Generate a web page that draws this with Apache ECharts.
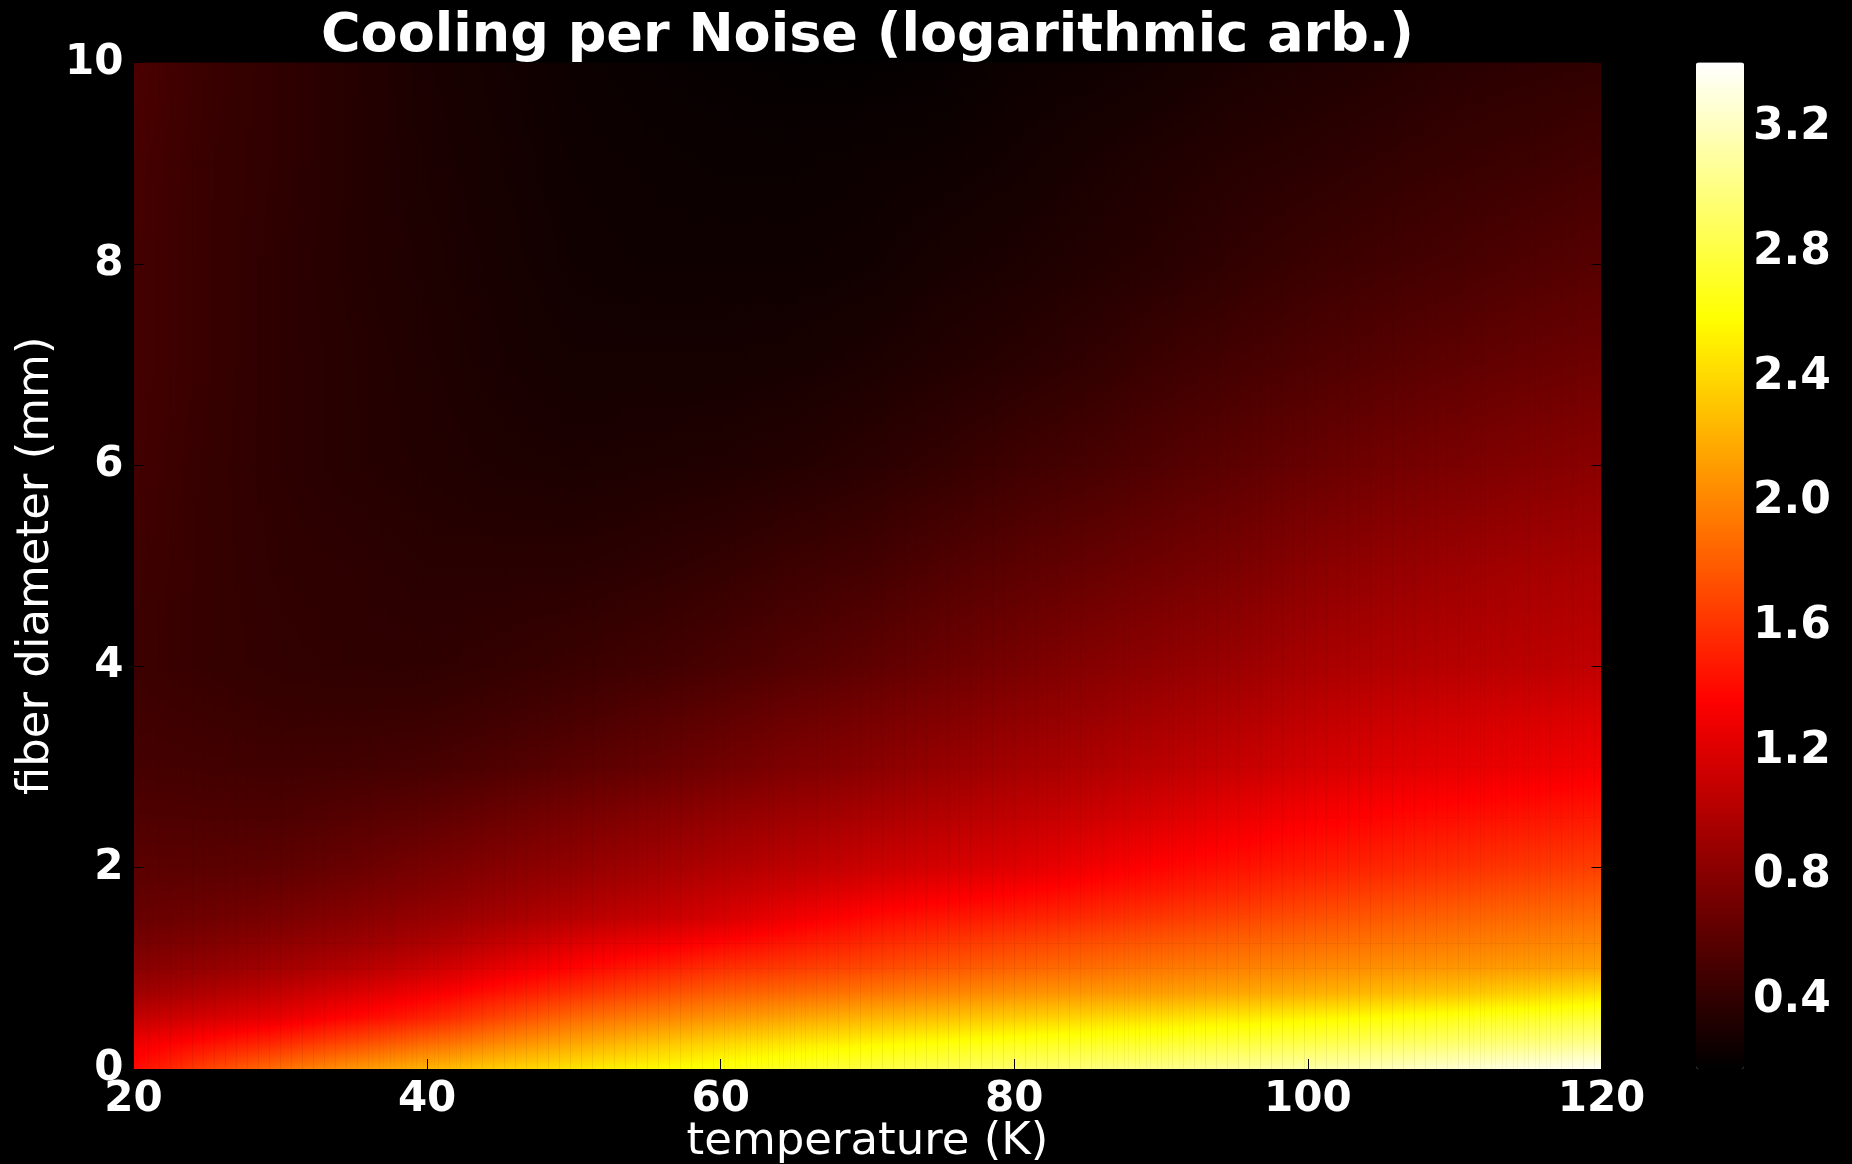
<!DOCTYPE html>
<html>
<head>
<meta charset="utf-8">
<title>Cooling per Noise</title>
<script src="https://cdn.jsdelivr.net/npm/echarts@6/dist/echarts.min.js"></script>
<style>
  html, body { margin: 0; padding: 0; background: #000; }
  #chart { width: 1852px; height: 1164px; }
</style>
</head>
<body>
<div id="chart"></div>
<script>
// Sample grid: temperature (K) along x, fiber diameter (mm) along y
const temperatures = [20, 25, 30, 35, 40, 45, 50, 55, 60, 65, 70, 75, 80, 85, 90, 95, 100, 105, 110, 115, 120];
const diameters = [0, 0.25, 0.5, 0.75, 1, 1.25, 1.5, 1.75, 2, 2.5, 3, 3.5, 4, 5, 6, 7, 8, 9, 10];

// Cooling per noise (log, arbitrary units); one row per diameter, one entry per temperature
const coolingPerNoise = [
  [1.40, 1.68, 1.90, 2.08, 2.23, 2.35, 2.46, 2.56, 2.64, 2.72, 2.80, 2.87, 2.93, 2.98, 3.03, 3.08, 3.13, 3.19, 3.26, 3.32, 3.38],
  [1.29, 1.43, 1.57, 1.73, 1.88, 2.03, 2.17, 2.29, 2.40, 2.48, 2.55, 2.62, 2.68, 2.72, 2.75, 2.80, 2.84, 2.90, 2.95, 3.00, 3.06],
  [1.09, 1.18, 1.27, 1.40, 1.53, 1.71, 1.88, 1.99, 2.09, 2.17, 2.24, 2.30, 2.36, 2.41, 2.45, 2.50, 2.55, 2.61, 2.67, 2.72, 2.78],
  [0.92, 1.00, 1.09, 1.20, 1.32, 1.46, 1.60, 1.72, 1.82, 1.88, 1.94, 2.00, 2.06, 2.10, 2.13, 2.17, 2.21, 2.26, 2.31, 2.38, 2.45],
  [0.81, 0.87, 0.94, 1.02, 1.12, 1.25, 1.38, 1.49, 1.59, 1.65, 1.71, 1.78, 1.84, 1.89, 1.94, 1.98, 2.02, 2.06, 2.09, 2.12, 2.15],
  [0.73, 0.78, 0.84, 0.90, 0.98, 1.08, 1.20, 1.29, 1.38, 1.47, 1.55, 1.62, 1.68, 1.74, 1.79, 1.84, 1.88, 1.92, 1.96, 1.99, 2.02],
  [0.66, 0.70, 0.75, 0.81, 0.88, 0.95, 1.03, 1.10, 1.18, 1.30, 1.40, 1.46, 1.51, 1.57, 1.63, 1.69, 1.74, 1.79, 1.84, 1.87, 1.90],
  [0.63, 0.65, 0.68, 0.74, 0.80, 0.87, 0.94, 1.01, 1.09, 1.17, 1.25, 1.31, 1.36, 1.43, 1.49, 1.55, 1.61, 1.66, 1.71, 1.75, 1.78],
  [0.60, 0.60, 0.62, 0.67, 0.74, 0.80, 0.86, 0.93, 1.00, 1.06, 1.12, 1.17, 1.22, 1.30, 1.38, 1.44, 1.49, 1.54, 1.59, 1.63, 1.66],
  [0.55, 0.54, 0.54, 0.58, 0.62, 0.68, 0.74, 0.80, 0.86, 0.92, 0.97, 1.02, 1.07, 1.13, 1.20, 1.27, 1.33, 1.38, 1.42, 1.45, 1.48],
  [0.50, 0.49, 0.48, 0.49, 0.51, 0.55, 0.60, 0.65, 0.71, 0.77, 0.82, 0.88, 0.94, 0.99, 1.05, 1.10, 1.16, 1.21, 1.25, 1.28, 1.31],
  [0.48, 0.46, 0.44, 0.44, 0.45, 0.48, 0.52, 0.57, 0.62, 0.68, 0.73, 0.78, 0.84, 0.89, 0.95, 1.00, 1.06, 1.11, 1.15, 1.18, 1.20],
  [0.46, 0.43, 0.41, 0.40, 0.40, 0.42, 0.45, 0.48, 0.52, 0.57, 0.62, 0.68, 0.74, 0.80, 0.85, 0.90, 0.96, 1.00, 1.03, 1.05, 1.07],
  [0.47, 0.43, 0.40, 0.39, 0.37, 0.37, 0.37, 0.39, 0.42, 0.46, 0.49, 0.55, 0.60, 0.65, 0.70, 0.75, 0.81, 0.86, 0.90, 0.94, 0.96],
  [0.49, 0.43, 0.39, 0.36, 0.34, 0.32, 0.31, 0.32, 0.33, 0.35, 0.38, 0.42, 0.47, 0.51, 0.56, 0.61, 0.66, 0.71, 0.75, 0.79, 0.82],
  [0.50, 0.44, 0.39, 0.36, 0.33, 0.30, 0.28, 0.28, 0.28, 0.29, 0.31, 0.34, 0.37, 0.41, 0.46, 0.50, 0.54, 0.58, 0.62, 0.66, 0.69],
  [0.50, 0.44, 0.39, 0.35, 0.32, 0.29, 0.26, 0.25, 0.25, 0.25, 0.26, 0.29, 0.31, 0.34, 0.37, 0.41, 0.45, 0.48, 0.51, 0.55, 0.58],
  [0.51, 0.44, 0.40, 0.35, 0.31, 0.28, 0.25, 0.24, 0.23, 0.23, 0.24, 0.25, 0.27, 0.30, 0.33, 0.36, 0.38, 0.41, 0.44, 0.46, 0.49],
  [0.53, 0.45, 0.40, 0.35, 0.30, 0.27, 0.24, 0.22, 0.21, 0.20, 0.20, 0.21, 0.24, 0.25, 0.27, 0.30, 0.32, 0.34, 0.37, 0.39, 0.40]
];

// Colour scale limits and colourbar tick values
const colorRange = [0.18, 3.41];
const colorbarTicks = [0.4, 0.8, 1.2, 1.6, 2.0, 2.4, 2.8, 3.2];

// "hot" colormap: black -> red -> yellow -> white
function hotColor(t) {
  const c = v => Math.max(0, Math.min(1, v));
  const r = c(t / 0.365079);
  const g = c((t - 0.365079) / (0.746032 - 0.365079));
  const b = c((t - 0.746032) / (1 - 0.746032));
  const h = v => Math.round(v * 255).toString(16).padStart(2, '0');
  return '#' + h(r) + h(g) + h(b);
}
function colorFor(v) {
  return hotColor((v - colorRange[0]) / (colorRange[1] - colorRange[0]));
}
const hotStops = [];
for (let k = 0; k <= 255; k++) hotStops.push(hotColor(k / 255));

const nT = temperatures.length;
const nD = diameters.length;
const seriesData = [];
diameters.forEach((d, j) => {
  temperatures.forEach((t, i) => {
    seriesData.push([t, d, coolingPerNoise[j][i]]);
  });
});

// Gouraud-style shading: each sample owns the quad spanning to its upper-right
// neighbour; the quad is painted as narrow columns with vertical colour ramps.
const STRIPS = 20;
const RAMP_STOPS = 9;
function rowValue(j, i, f) {
  return coolingPerNoise[j][i] * (1 - f) + coolingPerNoise[j][i + 1] * f;
}
function renderCell(params, api) {
  const i = params.dataIndex % nT;
  const j = Math.floor(params.dataIndex / nT);
  if (i === nT - 1 || j === nD - 1) return;
  const pBL = api.coord([temperatures[i], diameters[j]]);
  const pTR = api.coord([temperatures[i + 1], diameters[j + 1]]);
  const x0 = pBL[0], yb = pBL[1], x1 = pTR[0], yt = pTR[1];
  const w = (x1 - x0) / STRIPS;
  const xMax = params.coordSys.x + params.coordSys.width;
  const yMax = params.coordSys.y + params.coordSys.height;
  const children = [];
  for (let s = 0; s < STRIPS; s++) {
    const f = (s + 0.5) / STRIPS;
    const vBottom = rowValue(j, i, f);
    const vTop = rowValue(j + 1, i, f);
    const stops = [];
    for (let k = 0; k < RAMP_STOPS; k++) {
      const o = k / (RAMP_STOPS - 1);
      stops.push({ offset: o, color: colorFor(vTop * (1 - o) + vBottom * o) });
    }
    const left = x0 + s * w;
    const right = Math.min(left + w + 0.5, xMax);
    const bottom = Math.min(yb + 0.5, yMax);
    children.push({
      type: 'rect',
      shape: { x: left, y: yt, width: right - left, height: bottom - yt },
      style: { fill: new echarts.graphic.LinearGradient(0, 0, 0, 1, stops) },
      silent: true
    });
  }
  return { type: 'group', children: children };
}

const FONT = 'DejaVu Sans';
const plot = { left: 133.5, top: 62.6, width: 1468, height: 1006.4 };
const bar = { left: 1696, top: 62.6, width: 48, height: 1006.4 };

const tickStyle = { show: true, inside: true, length: 10, lineStyle: { color: '#000', width: 1 } };
const tickLabel = { color: '#fff', fontFamily: FONT, fontWeight: 'bold', fontSize: 42 };

const chart = echarts.init(document.getElementById('chart'), null, { renderer: 'canvas' });

chart.setOption({
  backgroundColor: '#000',
  animation: false,
  title: {
    text: 'Cooling per Noise (logarithmic arb.)',
    left: plot.left + plot.width / 2,
    top: 10,
    padding: 0,
    textAlign: 'center',
    textStyle: { color: '#fff', fontFamily: FONT, fontWeight: 'bold', fontSize: 54 }
  },
  grid: [
    { left: plot.left, top: plot.top, width: plot.width, height: plot.height, containLabel: false, outerBoundsMode: 'none' },
    { left: bar.left, top: bar.top, width: bar.width, height: bar.height, containLabel: false, outerBoundsMode: 'none' }
  ],
  xAxis: [
    {
      type: 'value', gridIndex: 0, min: 20, max: 120, interval: 20, position: 'bottom', z: 10,
      name: 'temperature (K)', nameLocation: 'middle', nameGap: 51, nameMoveOverlap: false,
      nameTextStyle: { color: '#fff', fontFamily: FONT, fontSize: 45 },
      axisLine: { show: true, lineStyle: { color: '#000', width: 1 } },
      axisTick: tickStyle,
      axisLabel: Object.assign({ margin: 10 }, tickLabel),
      splitLine: { show: false }
    },
    {
      type: 'value', gridIndex: 0, min: 20, max: 120, interval: 20, position: 'top', z: 10,
      axisLine: { show: true, lineStyle: { color: '#000', width: 1 } },
      axisTick: tickStyle, axisLabel: { show: false }, splitLine: { show: false }
    },
    {
      type: 'value', gridIndex: 1, min: 0, max: 1, show: false
    }
  ],
  yAxis: [
    {
      type: 'value', gridIndex: 0, min: 0, max: 10, interval: 2, position: 'left', z: 10,
      name: 'fiber diameter (mm)', nameLocation: 'middle', nameGap: 75, nameRotate: 90, nameMoveOverlap: false,
      nameTextStyle: { color: '#fff', fontFamily: FONT, fontSize: 45 },
      axisLine: { show: true, lineStyle: { color: '#000', width: 1 } },
      axisTick: tickStyle,
      axisLabel: Object.assign({ margin: 10 }, tickLabel),
      splitLine: { show: false }
    },
    {
      type: 'value', gridIndex: 0, min: 0, max: 10, interval: 2, position: 'right', z: 10,
      axisLine: { show: true, lineStyle: { color: '#000', width: 1 } },
      axisTick: tickStyle, axisLabel: { show: false }, splitLine: { show: false }
    },
    {
      type: 'value', gridIndex: 1, min: colorRange[0], max: colorRange[1], position: 'right', z: 10,
      axisLine: { show: false },
      axisTick: { show: true, inside: true, length: 9, customValues: colorbarTicks, lineStyle: { color: '#000', width: 1 } },
      axisLabel: Object.assign({ margin: 9, customValues: colorbarTicks, formatter: v => v.toFixed(1) },
        tickLabel, { fontSize: 44 }),
      splitLine: { show: false }
    }
  ],
  visualMap: {
    type: 'continuous',
    min: colorRange[0],
    max: colorRange[1],
    dimension: 2,
    seriesIndex: 0,
    calculable: false,
    hoverLink: false,
    orient: 'vertical',
    left: bar.left,
    top: bar.top,
    padding: 0,
    itemWidth: bar.width,
    itemHeight: bar.height,
    text: null,
    textStyle: { color: 'transparent' },
    inRange: { color: hotStops }
  },
  series: [
    {
      type: 'custom',
      xAxisIndex: 0,
      yAxisIndex: 0,
      z: 2,
      data: seriesData,
      renderItem: renderCell
    }
  ]
});
</script>
</body>
</html>
